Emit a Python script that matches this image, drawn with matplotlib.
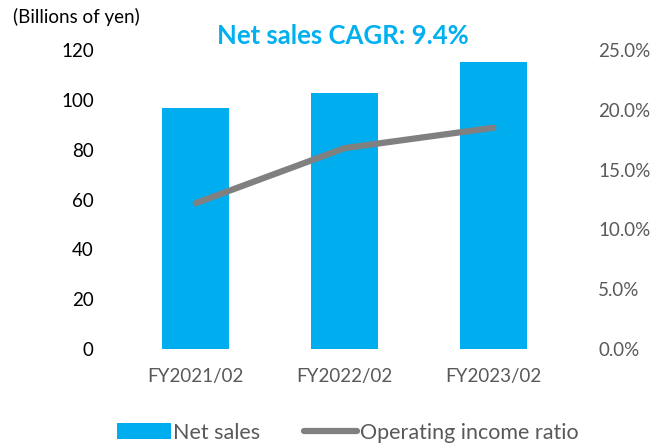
import matplotlib
matplotlib.use("Agg")
import matplotlib.pyplot as plt
from matplotlib.ticker import FuncFormatter

plt.rcParams["font.family"] = ["Lato", "DejaVu Sans"]

years = ["FY2021/02", "FY2022/02", "FY2023/02"]
net_sales = [96.6, 102.9, 115.3]          # billions of yen
op_income_ratio = [12.2, 16.8, 18.5]      # percent

BAR_COLOR = "#00AEEF"
LINE_COLOR = "#808080"
GREY_TEXT = "#595959"

fig = plt.figure(figsize=(6.5, 4.45), dpi=100)
ax = fig.add_axes([0.187, 0.2157, 0.6865, 0.6719])
ax2 = ax.twinx()

x = range(len(years))
bars = ax.bar(x, net_sales, width=0.45, color=BAR_COLOR, label="Net sales", zorder=2)
line, = ax2.plot(x, op_income_ratio, color=LINE_COLOR, linewidth=4.5,
                 solid_capstyle="round", label="Operating income ratio", zorder=3)

ax.set_xlim(-0.5, 2.5)
ax.set_ylim(0, 120)
ax.set_yticks(range(0, 121, 20))
ax2.set_ylim(0, 25)
ax2.set_yticks([0, 5, 10, 15, 20, 25])
ax2.yaxis.set_major_formatter(FuncFormatter(lambda v, _: f"{v:.1f}%"))

ax.set_xticks(list(x))
ax.set_xticklabels(years)

for a in (ax, ax2):
    for s in a.spines.values():
        s.set_visible(False)
    a.tick_params(length=0, labelsize=13.5)
ax.tick_params(axis="y", pad=20, colors="#000000")
ax.tick_params(axis="x", pad=14, colors=GREY_TEXT)
ax2.tick_params(axis="y", pad=22, colors=GREY_TEXT)

ax.set_zorder(ax2.get_zorder() - 1)
ax2.patch.set_visible(False)

fig.text(0.02, 0.962, "(Billions of yen)", fontsize=13.5, color="#000000",
         ha="left", va="center")
fig.text(0.527, 0.918, "Net sales CAGR: 9.4%", fontsize=18.5, fontweight="bold",
         color="#00B0F0", ha="center", va="center")

fig.legend([bars, line], ["Net sales", "Operating income ratio"],
           loc="center", bbox_to_anchor=(0.535, 0.028), ncol=2, frameon=False,
           fontsize=15.5, labelcolor=GREY_TEXT, handlelength=2.5,
           handletextpad=0.12, columnspacing=2.0)

fig.savefig("out.png", dpi=100)
